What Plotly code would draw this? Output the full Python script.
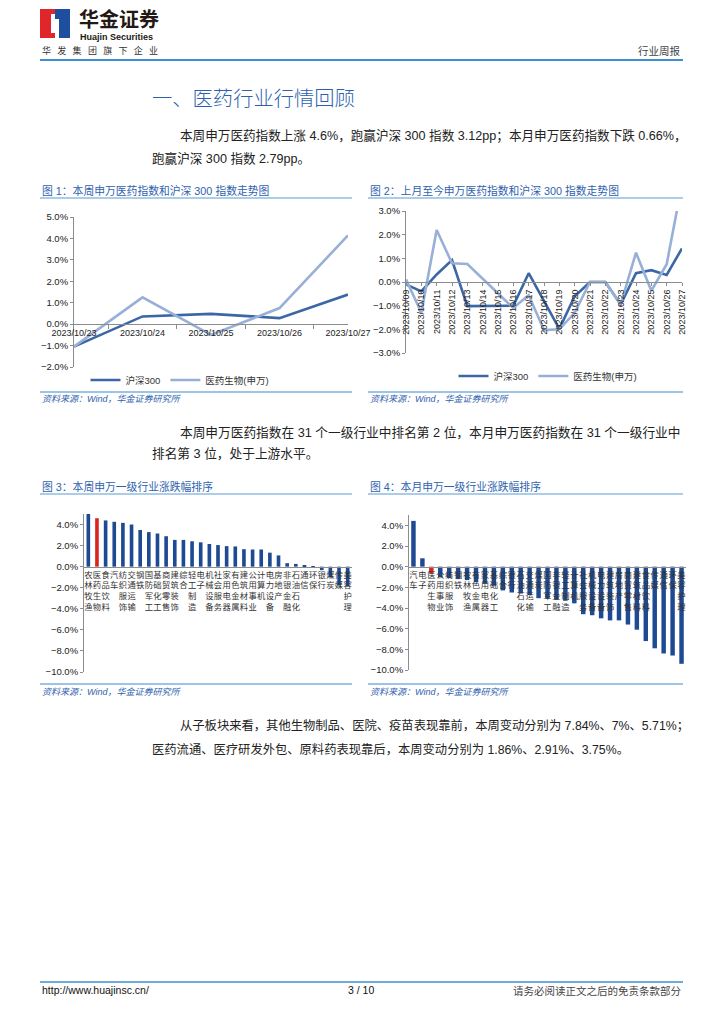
import plotly.graph_objects as go

W, H = 724, 1024
def fx(px): return px / W
def fy(py): return 1 - py / H

# ---------------- data ----------------
week_dates = ["2023/10/23", "2023/10/24", "2023/10/25", "2023/10/26", "2023/10/27"]
week_hs300 = [-1.05, 0.36, 0.48, 0.28, 1.38]
week_med = [-1.05, 1.25, -0.50, 0.75, 4.14]

month_dates = ["2023/10/09", "2023/10/10", "2023/10/11", "2023/10/12", "2023/10/13",
               "2023/10/14", "2023/10/15", "2023/10/16", "2023/10/17", "2023/10/18",
               "2023/10/19", "2023/10/20", "2023/10/21", "2023/10/22", "2023/10/23",
               "2023/10/24", "2023/10/25", "2023/10/26", "2023/10/27"]
month_hs300 = [-0.10, -0.40, 0.32, 0.93, -1.02, -1.02, -1.02, -1.00, 0.37, -0.80,
               -1.98, -0.60, 0.00, 0.00, -0.95, 0.37, 0.50, 0.30, 1.42]
month_med = [0.11, -1.30, 2.20, 0.79, 0.76, 0.15, -0.48, -1.10, -0.55, -2.03,
             -2.00, -1.30, 0.00, 0.00, -0.95, 1.24, -0.37, 0.75, 4.14]

week_industries = ["农林牧渔", "医药生物", "食品饮料", "汽车", "纺织服饰", "交通运输", "钢铁",
                   "国防军工", "基础化工", "商贸零售", "建筑装饰", "综合", "轻工制造", "电子",
                   "机械设备", "社会服务", "家用电器", "有色金属", "建筑材料", "公用事业",
                   "计算机", "电力设备", "房地产", "非银金融", "石油石化", "通信", "环保",
                   "银行", "煤炭", "传媒", "美容护理"]
week_change = [5.06, 4.60, 4.39, 4.26, 4.16, 4.00, 3.48, 3.28, 3.15, 2.89, 2.54, 2.54,
               2.41, 2.31, 2.15, 2.05, 1.95, 1.92, 1.66, 1.63, 1.63, 1.33, 1.07, 0.33,
               0.26, 0.16, -0.05, -0.33, -1.00, -1.80, -1.85]

month_industries = ["汽车", "电子", "医药生物", "公用事业", "纺织服饰", "钢铁", "农林牧渔",
                    "有色金属", "家用电器", "基础化工", "综合", "银行", "石油石化", "交通运输",
                    "煤炭", "国防军工", "非银金融", "轻工制造", "计算机", "社会服务", "机械设备",
                    "电力设备", "建筑装饰", "房地产", "商贸零售", "建筑材料", "食品饮料", "传媒",
                    "通信", "环保", "美容护理"]
month_change = [4.43, 0.81, -0.66, -1.00, -1.10, -1.20, -1.30, -1.50, -1.65, -1.85, -2.30,
                -2.50, -2.60, -2.75, -3.05, -3.10, -3.20, -3.30, -3.55, -4.60, -4.70, -5.00,
                -5.20, -5.20, -5.60, -6.10, -7.20, -7.90, -8.40, -8.60, -9.40]

HIGHLIGHT = "医药生物"

# ---------------- styles ----------------
DARK = "#3B67A4"
LIGHT = "#98B0D8"
BAR = "#1D4A93"
RED = "#D9261C"
AXIS = "#8C8C8C"
BLUE_T = "#2F62AE"
NUM_FONT = "Arial, Liberation Sans, Noto Sans CJK SC"
CJK = "Liberation Sans, Noto Sans CJK SC"

fig = go.Figure()

fig.add_trace(go.Scatter(x=week_dates, y=week_hs300, mode="lines", name="沪深300",
                         line=dict(color=DARK, width=2.6), xaxis="x", yaxis="y", legend="legend"))
fig.add_trace(go.Scatter(x=week_dates, y=week_med, mode="lines", name="医药生物(申万)",
                         line=dict(color=LIGHT, width=2.6), xaxis="x", yaxis="y", legend="legend"))
fig.add_trace(go.Scatter(x=month_dates, y=month_hs300, mode="lines", name="沪深300",
                         line=dict(color=DARK, width=2.6), xaxis="x2", yaxis="y2", legend="legend2"))
fig.add_trace(go.Scatter(x=month_dates, y=month_med, mode="lines", name="医药生物(申万)",
                         line=dict(color=LIGHT, width=2.6), xaxis="x2", yaxis="y2", legend="legend2"))
fig.add_trace(go.Bar(x=week_industries, y=week_change, width=0.42, showlegend=False,
                     marker=dict(color=[RED if c == HIGHLIGHT else BAR for c in week_industries],
                                 line=dict(width=0)),
                     xaxis="x3", yaxis="y3"))
fig.add_trace(go.Bar(x=month_industries, y=month_change, width=0.5, showlegend=False,
                     marker=dict(color=[RED if c == HIGHLIGHT else BAR for c in month_industries],
                                 line=dict(width=0)),
                     xaxis="x4", yaxis="y4"))


def zero_pos(top_px, bot_px, rng):
    y0, y1 = fy(bot_px), fy(top_px)
    return y0 + (y1 - y0) * (0 - rng[0]) / (rng[1] - rng[0])


def yax(top_px, bot_px, rng, dtick):
    return dict(domain=[fy(bot_px), fy(top_px)], range=rng, dtick=dtick, tick0=0,
                ticksuffix="%", tickformat=".1f", showgrid=False, zeroline=False,
                showline=True, linecolor=AXIS, linewidth=1, ticks="outside", ticklen=3,
                tickcolor=AXIS, tickfont=dict(family=NUM_FONT, size=9.5, color="#222"),
                fixedrange=True, automargin=False)


r1, r2, r3, r4 = [-2, 5], [-3, 3], [-10, 5], [-10, 5]
c1 = (217, 367); c2 = (211, 353); c3 = (514, 672); c4 = (515, 670)

stack = lambda s: "<br>".join(list(s))

fig.update_layout(
    template="none",
    width=W, height=H, autosize=False,
    margin=dict(l=0, r=0, t=0, b=0, pad=0, autoexpand=False),
    paper_bgcolor="white", plot_bgcolor="rgba(0,0,0,0)",
    font=dict(family=CJK, color="#222"),
    xaxis=dict(domain=[fx(74), fx(348)], type="category", anchor="free",
               position=zero_pos(*c1, r1), showline=True, linecolor=AXIS,
               ticks="outside", tickson="boundaries", ticklen=4, tickcolor=AXIS,
               tickangle=0, tickfont=dict(family=NUM_FONT, size=9, color="#222"),
               showgrid=False, fixedrange=True, automargin=False),
    yaxis=dict(anchor="x", **yax(*c1, r1, 1)),
    xaxis2=dict(domain=[fx(406), fx(682)], type="category", anchor="free",
                position=zero_pos(*c2, r2), showline=True, linecolor=AXIS,
                ticks="outside", ticklen=3, tickcolor=AXIS, tickangle=-90,
                tickfont=dict(family=NUM_FONT, size=9, color="#222"),
                showgrid=False, fixedrange=True, automargin=False),
    yaxis2=dict(anchor="x2", **yax(*c2, r2, 1)),
    xaxis3=dict(domain=[fx(84), fx(352)], type="category", anchor="free",
                position=zero_pos(*c3, r3), showline=True, linecolor=AXIS,
                ticks="", tickangle=0, tickmode="array", tickvals=week_industries,
                ticktext=[stack(c) for c in week_industries],
                tickfont=dict(family="Noto Sans CJK SC", size=8.3, color="#333"),
                showgrid=False, fixedrange=True, automargin=False),
    yaxis3=dict(anchor="x3", **yax(*c3, r3, 2)),
    xaxis4=dict(domain=[fx(409), fx(686)], type="category", anchor="free",
                position=zero_pos(*c4, r4), showline=True, linecolor=AXIS,
                ticks="", tickangle=0, tickmode="array", tickvals=month_industries,
                ticktext=[stack(c) for c in month_industries],
                tickfont=dict(family="Noto Sans CJK SC", size=8.3, color="#333"),
                showgrid=False, fixedrange=True, automargin=False),
    yaxis4=dict(anchor="x4", **yax(*c4, r4, 2)),
    legend=dict(orientation="h", x=fx(180), xanchor="center", y=fy(380), yanchor="middle",
                font=dict(family=CJK, size=9.5, color="#333"), bgcolor="rgba(0,0,0,0)",
                itemwidth=30, tracegroupgap=0),
    legend2=dict(orientation="h", x=fx(548), xanchor="center", y=fy(376), yanchor="middle",
                 font=dict(family=CJK, size=9.5, color="#333"), bgcolor="rgba(0,0,0,0)",
                 itemwidth=30, tracegroupgap=0),
    bargap=0.5,
)

ann = []
def txt(x, y, s, size, color="#222", anchor="left", family=CJK, weight=None):
    f = dict(size=size, color=color, family=family)
    if weight:
        f["weight"] = weight
    ann.append(dict(x=fx(x), y=fy(y), xref="paper", yref="paper", text=s, showarrow=False,
                    xanchor=anchor, yanchor="middle", font=f))

shapes = []
def hline(x0, x1, y, color, width):
    shapes.append(dict(type="line", xref="paper", yref="paper", x0=fx(x0), x1=fx(x1),
                       y0=fy(y), y1=fy(y), line=dict(color=color, width=width)))
def rect(x0, y0, x1, y1, color):
    shapes.append(dict(type="rect", xref="paper", yref="paper", x0=fx(x0), x1=fx(x1),
                       y0=fy(y1), y1=fy(y0), line=dict(width=0), fillcolor=color))

# header / logo
rect(40, 9, 55, 38, "#E0262A")
rect(55, 9, 70, 38, "#1E4E9E")
rect(51, 14, 55, 33, "white")
rect(55, 19, 59, 38, "white")
txt(77, 18, "<b>华金证券</b>", 20, "#231815", family="Noto Sans CJK SC")
txt(78, 37, "<b>Huajin Securities</b>", 9, "#231815", family="Arial, Liberation Sans")
SP = "\u2002\u2009"
txt(40, 50, SP.join(list("华发集团旗下企业")), 9, "#333", family="Noto Sans CJK SC")
txt(683, 50, "行业周报", 10.5, "#444", anchor="right", family="Noto Sans CJK SC")
hline(40, 683, 60, "#3F8FD0", 2)

# section title and paragraphs
txt(150, 97, "一、医药行业行情回顾", 20.3, "#2E5FAE", family="Noto Sans CJK SC", weight=300)
txt(178, 136, "本周申万医药指数上涨 4.6%，跑赢沪深 300 指数 3.12pp；本月申万医药指数下跌 0.66%，", 12.6)
txt(150, 158, "跑赢沪深 300 指数 2.79pp。", 12.6)

# chart titles and rules
txt(40, 190, "图 1：本周申万医药指数和沪深 300 指数走势图", 10.8, BLUE_T)
txt(368, 190, "图 2：上月至今申万医药指数和沪深 300 指数走势图", 10.8, BLUE_T)
hline(40, 352, 198, "#5B9BD5", 1.2)
hline(368, 683, 198, "#5B9BD5", 1.2)
hline(40, 352, 392, "#9DC3E6", 2)
hline(368, 683, 392, "#9DC3E6", 2)
txt(40, 399, "<i>资料来源：Wind，华金证券研究所</i>", 9, BLUE_T)
txt(368, 399, "<i>资料来源：Wind，华金证券研究所</i>", 9, BLUE_T)

txt(178, 432, "本周申万医药指数在 31 个一级行业中排名第 2 位，本月申万医药指数在 31 个一级行业中", 12.7)
txt(150, 453, "排名第 3 位，处于上游水平。", 12.7)

txt(40, 486, "图 3：本周申万一级行业涨跌幅排序", 10.8, BLUE_T)
txt(368, 486, "图 4：本月申万一级行业涨跌幅排序", 10.8, BLUE_T)
hline(40, 352, 494, "#5B9BD5", 1.2)
hline(368, 683, 494, "#5B9BD5", 1.2)
hline(40, 352, 684, "#9DC3E6", 2)
hline(368, 683, 684, "#9DC3E6", 2)
txt(40, 692, "<i>资料来源：Wind，华金证券研究所</i>", 9, BLUE_T)
txt(368, 692, "<i>资料来源：Wind，华金证券研究所</i>", 9, BLUE_T)

txt(178, 725, "从子板块来看，其他生物制品、医院、疫苗表现靠前，本周变动分别为 7.84%、7%、5.71%；", 12.3)
txt(150, 749, "医药流通、医疗研发外包、原料药表现靠后，本周变动分别为 1.86%、2.91%、3.75%。", 12.3)

# footer
hline(40, 683, 982, "#3F8FD0", 1.5)
txt(40, 990, "http://www.huajinsc.cn/", 10.5, "#111", family="Arial, Liberation Sans")
txt(361, 990, "3 / 10", 10.5, "#111", anchor="center", family="Arial, Liberation Sans")
txt(683, 990, "请务必阅读正文之后的免责条款部分", 10.5, "#444", anchor="right", family="Noto Sans CJK SC")

fig.update_layout(annotations=ann, shapes=shapes)
fig.write_html("out.html", config=dict(displayModeBar=False),
               post_script="document.body.style.margin='0';")
